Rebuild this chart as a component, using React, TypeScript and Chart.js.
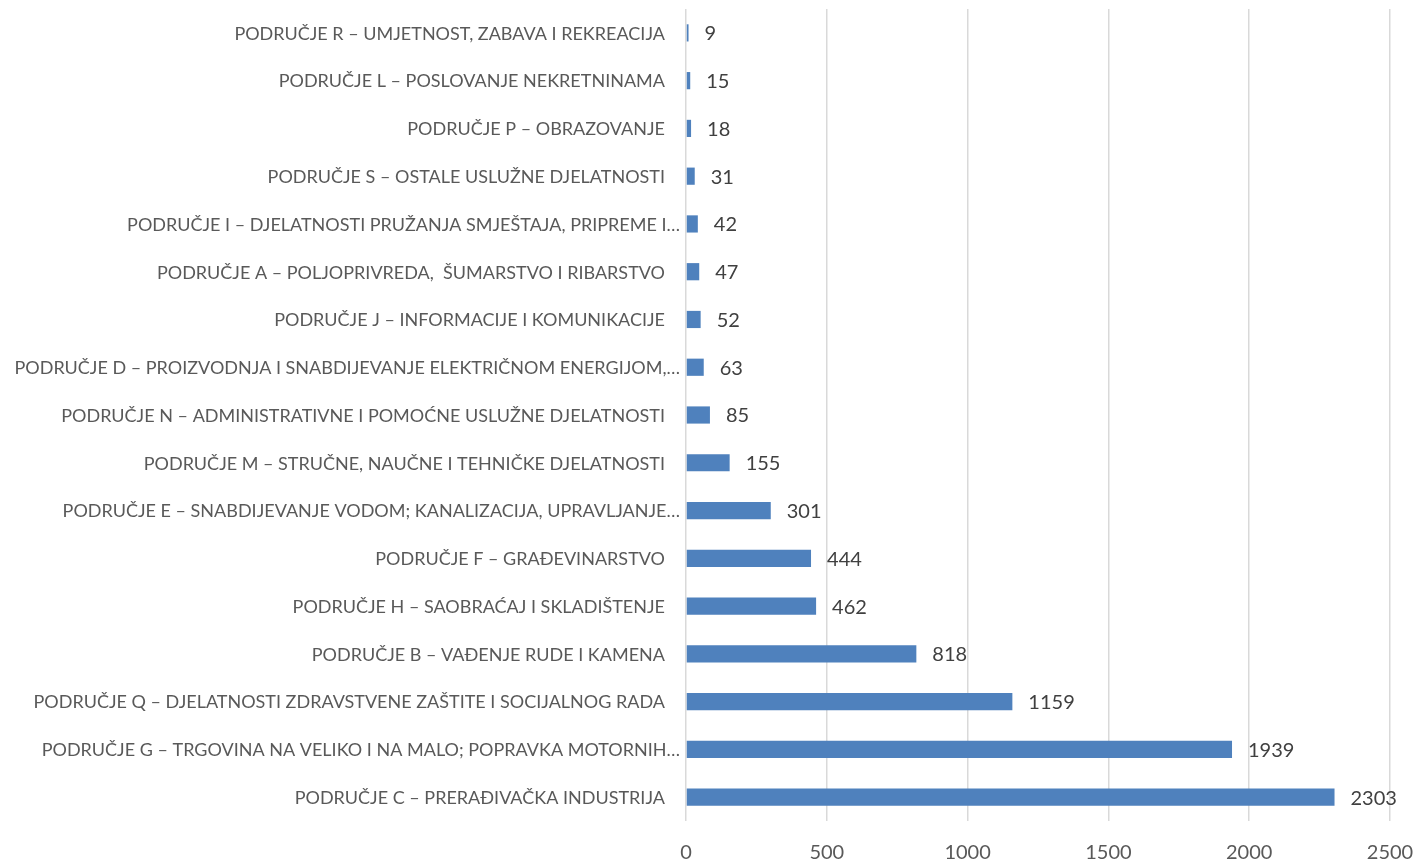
import React, { useEffect, useRef } from "react";
import { Chart, registerables } from "chart.js";

Chart.register(...registerables);

const categories: string[] = [
  "PODRUČJE R – UMJETNOST, ZABAVA I REKREACIJA",
  "PODRUČJE L – POSLOVANJE NEKRETNINAMA",
  "PODRUČJE P – OBRAZOVANJE",
  "PODRUČJE S – OSTALE USLUŽNE DJELATNOSTI",
  "PODRUČJE I – DJELATNOSTI PRUŽANJA SMJEŠTAJA, PRIPREME I…",
  "PODRUČJE A – POLJOPRIVREDA,  ŠUMARSTVO I RIBARSTVO",
  "PODRUČJE J – INFORMACIJE I KOMUNIKACIJE",
  "PODRUČJE D – PROIZVODNJA I SNABDIJEVANJE ELEKTRIČNOM ENERGIJOM,…",
  "PODRUČJE N – ADMINISTRATIVNE I POMOĆNE USLUŽNE DJELATNOSTI",
  "PODRUČJE M – STRUČNE, NAUČNE I TEHNIČKE DJELATNOSTI",
  "PODRUČJE E – SNABDIJEVANJE VODOM; KANALIZACIJA, UPRAVLJANJE…",
  "PODRUČJE F – GRAĐEVINARSTVO",
  "PODRUČJE H – SAOBRAĆAJ I SKLADIŠTENJE",
  "PODRUČJE B – VAĐENJE RUDE I KAMENA",
  "PODRUČJE Q – DJELATNOSTI ZDRAVSTVENE ZAŠTITE I SOCIJALNOG RADA",
  "PODRUČJE G – TRGOVINA NA VELIKO I NA MALO; POPRAVKA MOTORNIH…",
  "PODRUČJE C – PRERAĐIVAČKA INDUSTRIJA",
];

const values: number[] = [9, 15, 18, 31, 42, 47, 52, 63, 85, 155, 301, 444, 462, 818, 1159, 1939, 2303];

const xTicks: number[] = [0, 500, 1000, 1500, 2000, 2500];

const FONT = "Lato, 'Open Sans', sans-serif";

const labelsPlugin = {
  id: "labelsDraw",
  afterDatasetsDraw(chart: any) {
    const ctx = chart.ctx;
    const meta = chart.getDatasetMeta(0);
    const yScale = chart.scales.y;
    ctx.save();
    // category labels
    ctx.fillStyle = "#595959";
    ctx.font = `18px ${FONT}`;
    ctx.textAlign = "right";
    ctx.textBaseline = "middle";
    categories.forEach((c, i) => {
      const y = yScale.getPixelForValue(i);
      const right = c.endsWith("…") ? chart.chartArea.left - 6 : chart.chartArea.left - 21;
      ctx.fillText(c, right, y + 1);
    });
    // data labels
    ctx.fillStyle = "#404040";
    ctx.font = `20px ${FONT}`;
    ctx.textAlign = "left";
    meta.data.forEach((bar: any, i: number) => {
      ctx.fillText(String(values[i]), bar.x + 16, bar.y + 1);
    });
    ctx.restore();
  },
};

export default function App() {
  const ref = useRef<HTMLCanvasElement>(null);
  useEffect(() => {
    if (!ref.current) return;
    const chart = new Chart(ref.current, {
      type: "bar",
      data: {
        labels: categories,
        datasets: [
          {
            data: values,
            backgroundColor: "#4f81bd",
            barPercentage: 0.36,
            categoryPercentage: 1,
          },
        ],
      },
      options: {
        indexAxis: "y",
        animation: false,
        responsive: false,
        maintainAspectRatio: false,
        layout: { padding: { top: 9, right: 27, bottom: 0, left: 0 } },
        plugins: { legend: { display: false }, tooltip: { enabled: false } },
        scales: {
          x: {
            min: 0,
            max: 2500,
            afterBuildTicks: (axis: any) => {
              axis.ticks = xTicks.map((v) => ({ value: v }));
            },
            ticks: {
              color: "#595959",
              font: { family: FONT, size: 20 },
              padding: 20,
              callback: (v: any) => String(v),
            },
            grid: { color: "#d9d9d9", lineWidth: 1.5, drawTicks: false },
            border: { display: false },
            afterFit: (axis: any) => {
              axis.height = 43;
              axis.paddingRight = 0;
              axis.paddingLeft = 0;
            },
          },
          y: {
            ticks: { display: false },
            grid: { display: false, drawTicks: false },
            border: { display: false },
            afterFit: (axis: any) => {
              axis.width = 686;
              axis.paddingTop = 0;
              axis.paddingBottom = 0;
            },
          },
        },
      },
      plugins: [labelsPlugin],
    });
    return () => chart.destroy();
  }, []);
  return (
    <div style={{ position: "absolute", left: 0, top: 0, width: 1417, height: 864, background: "#fff" }}>
      <canvas ref={ref} width={1417} height={864} />
    </div>
  );
}
